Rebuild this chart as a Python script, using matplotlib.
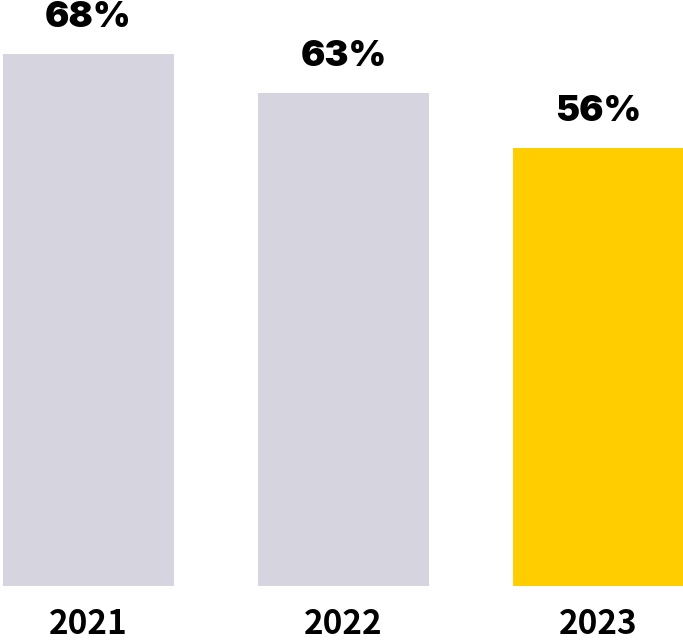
import matplotlib
matplotlib.use("Agg")
from matplotlib import pyplot as plt

years = ["2021", "2022", "2023"]
values = [68, 63, 56]
colors = ["#D6D5DF", "#D6D5DF", "#FFCD00"]


def main():
    fig = plt.figure(figsize=(6.83, 6.4), dpi=100)
    ax = fig.add_axes([0, 54 / 640, 1, 586 / 640])

    x = range(len(years))
    ax.bar(x, values, width=0.67, color=colors)

    ax.set_xlim(-88.5 / 255, (683 - 88.5) / 255)
    ax.set_ylim(0, 586 / 7.83)

    for i in x:
        ax.annotate(str(values[i]) + "%", (i, values[i]), xytext=(0, 14), textcoords="offset points",
                    ha="center", va="bottom", fontsize=26, fontweight="black", family="Inter")
        ax.text(i, -38 / 586, years[i], transform=ax.get_xaxis_transform(), ha="center", va="center",
                fontsize=24, fontweight="bold", family="Noto Sans CJK SC")

    ax.axis("off")
    fig.savefig("out.png", dpi=100)


if __name__ == "__main__":
    main()
